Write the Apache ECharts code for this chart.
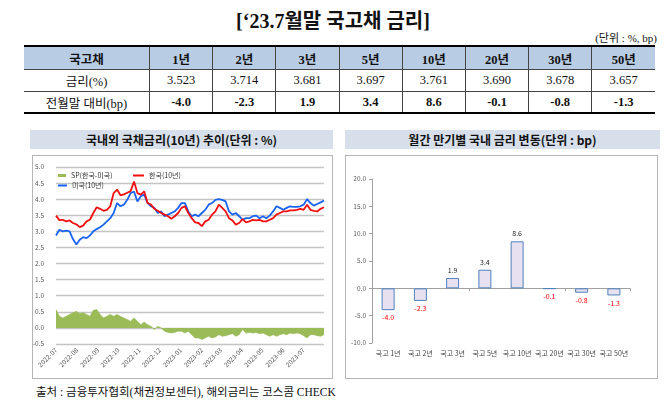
<!DOCTYPE html>
<html><head><meta charset="utf-8">
<script src="https://cdn.jsdelivr.net/npm/echarts@6/dist/echarts.min.js"></script>
<style>
body{margin:0;width:670px;height:405px;background:#fff;position:relative;overflow:hidden;font-family:"Liberation Serif","Noto Sans CJK KR",serif;color:#111;}
.abs{position:absolute;}
#title{left:0;top:5px;width:666px;text-align:center;font-size:20px;font-weight:bold;font-family:"Liberation Serif","Noto Sans CJK KR",serif;}
#unit{right:13px;top:29px;font-size:11px;}
#tbl{left:24px;top:45px;width:631px;border-collapse:collapse;table-layout:fixed;font-size:12.5px;}
#tbl td{text-align:center;padding:0;border-left:1px solid #444;border-right:1px solid #444;}
#tbl tr td:first-child{border-left:none;width:125px;}
#tbl tr td:last-child{border-right:none;}
#tbl tr.h td{background:#b8cce4;height:22px;font-weight:bold;border-top:2px solid #000;border-bottom:1px solid #444;}
#tbl tr.r td{height:21px;border-bottom:1px solid #444;}
#tbl tr.c td{height:20px;border-bottom:2px solid #000;}
#tbl tr.c td.v{font-weight:bold;}
.bar{top:130px;height:19px;background:#d6dfea;font-family:"Noto Sans CJK KR",sans-serif;font-weight:bold;font-size:12px;line-height:19px;text-align:center;color:#111;}
.box{top:155px;height:222px;border:1px solid #b5b5b5;}
#foot{left:36px;top:383px;font-size:11.5px;}
</style></head><body>
<div id="title" class="abs">[‘23.7월말 국고채 금리]</div>
<div id="unit" class="abs">(단위 : %, bp)</div>
<table id="tbl" class="abs"><tbody id="tb"></tbody></table>
<div class="abs bar" style="left:30px;width:303px;">국내외 국채금리(10년) 추이(단위 : %)</div>
<div class="abs bar" style="left:345px;width:315px;">월간 만기별 국내 금리 변동(단위 : bp)</div>
<div class="abs box" style="left:32px;width:299px;"></div>
<div class="abs box" style="left:345px;width:311px;"></div>
<div id="foot" class="abs">출처 : 금융투자협회(채권정보센터), 해외금리는 코스콤 CHECK</div>
<div id="chart" class="abs" style="left:0;top:0;width:670px;height:405px;"></div>
<script>
// ---- table data ----
const tableHead = '국고채';
const tableTenors = ['1년','2년','3년','5년','10년','20년','30년','50년'];
const tableRowRate = '금리(%)';
const tableRates = ['3.523','3.714','3.681','3.697','3.761','3.690','3.678','3.657'];
const tableRowChg = '전월말 대비(bp)';
const tableChanges = ['-4.0','-2.3','1.9','3.4','8.6','-0.1','-0.8','-1.3'];

// ---- left chart data (10Y yields) ----
const dates = ['2022-07-01','2022-07-06','2022-07-11','2022-07-16','2022-07-21','2022-07-26','2022-07-31','2022-08-05','2022-08-10','2022-08-15','2022-08-20','2022-08-25','2022-08-30','2022-09-04','2022-09-09','2022-09-14','2022-09-19','2022-09-24','2022-09-29','2022-10-04','2022-10-09','2022-10-14','2022-10-19','2022-10-24','2022-10-29','2022-11-03','2022-11-08','2022-11-13','2022-11-18','2022-11-23','2022-11-28','2022-12-03','2022-12-08','2022-12-13','2022-12-18','2022-12-23','2022-12-28','2023-01-02','2023-01-07','2023-01-12','2023-01-17','2023-01-22','2023-01-27','2023-02-01','2023-02-06','2023-02-11','2023-02-16','2023-02-21','2023-02-26','2023-03-03','2023-03-08','2023-03-13','2023-03-18','2023-03-23','2023-03-28','2023-04-02','2023-04-07','2023-04-12','2023-04-17','2023-04-22','2023-04-27','2023-05-02','2023-05-07','2023-05-12','2023-05-17','2023-05-22','2023-05-27','2023-06-01','2023-06-06','2023-06-11','2023-06-16','2023-06-21','2023-06-26','2023-07-01','2023-07-06','2023-07-11','2023-07-16','2023-07-21','2023-07-26','2023-07-31'];
const korea10y = [3.49,3.35,3.36,3.31,3.34,3.26,3.22,3.13,3.18,3.31,3.36,3.57,3.75,3.70,3.64,3.67,3.78,4.19,4.30,4.12,4.15,4.20,4.25,4.55,4.19,4.14,4.24,3.88,3.83,3.70,3.64,3.57,3.52,3.47,3.39,3.47,3.57,3.73,3.78,3.57,3.41,3.28,3.26,3.16,3.31,3.36,3.52,3.62,3.83,3.73,3.62,3.41,3.34,3.21,3.26,3.38,3.28,3.31,3.36,3.34,3.36,3.31,3.31,3.36,3.41,3.52,3.57,3.62,3.62,3.65,3.65,3.67,3.70,3.67,3.83,3.67,3.64,3.62,3.70,3.75];
const us10y = [2.87,3.05,3.00,3.02,3.00,2.76,2.59,2.74,2.82,2.79,2.87,3.00,3.07,3.13,3.21,3.31,3.41,3.57,3.88,3.78,3.83,3.98,4.19,4.24,3.93,4.09,4.14,3.88,3.78,3.73,3.57,3.62,3.47,3.52,3.57,3.62,3.73,3.88,3.88,3.62,3.47,3.52,3.47,3.57,3.67,3.83,3.88,3.98,4.00,3.98,3.93,3.62,3.52,3.57,3.47,3.36,3.41,3.41,3.47,3.49,3.41,3.47,3.41,3.49,3.62,3.78,3.73,3.67,3.73,3.78,3.76,3.76,3.78,3.83,4.00,3.88,3.80,3.85,3.90,3.96];
const spread = [0.57,0.36,0.31,0.36,0.42,0.47,0.52,0.45,0.47,0.42,0.36,0.55,0.57,0.42,0.31,0.36,0.42,0.36,0.42,0.36,0.31,0.26,0.21,0.31,0.21,0.10,0.18,0.10,0.05,-0.05,0.05,0.0,-0.10,-0.14,-0.16,-0.14,-0.10,-0.10,-0.16,-0.10,-0.21,-0.31,-0.31,-0.36,-0.31,-0.26,-0.31,-0.28,-0.21,-0.26,-0.24,-0.21,-0.18,-0.26,-0.21,-0.05,-0.16,-0.14,-0.16,-0.14,-0.18,-0.16,-0.21,-0.26,-0.21,-0.26,-0.21,-0.18,-0.21,-0.16,-0.18,-0.16,-0.18,-0.24,-0.31,-0.21,-0.21,-0.24,-0.26,-0.21];
const leftYTicks = [-0.5,0,0.5,1,1.5,2,2.5,3,3.5,4,4.5,5];

// ---- right chart data (monthly change, bp) ----
const tenorCats = ['국고 1년','국고 2년','국고 3년','국고 5년','국고 10년','국고 20년','국고 30년','국고 50년'];
const monthlyChange = [-4.0,-2.3,1.9,3.4,8.6,-0.1,-0.8,-1.3];
const rightYTicks = [-10,-5,0,5,10,15,20];

// build table
(function(){
  const tb = document.getElementById('tb');
  const mk = (cls, first, arr, vcls) => {
    const tr = document.createElement('tr'); tr.className = cls;
    const td0 = document.createElement('td'); td0.textContent = first; tr.appendChild(td0);
    arr.forEach(v => { const td = document.createElement('td'); td.textContent = v; if (vcls) td.className = vcls; tr.appendChild(td); });
    tb.appendChild(tr);
  };
  mk('h', tableHead, tableTenors);
  mk('r', tableRowRate, tableRates);
  mk('c', tableRowChg, tableChanges, 'v');
})();

const chart = echarts.init(document.getElementById('chart'), null, {renderer:'canvas'});
const smallFont = {fontFamily:'"Noto Sans CJK KR", sans-serif', fontSize:6.5, color:'#595959'};
const pair = arr => dates.map((d,i)=>[d, arr[i]]);
const fmtMonth = v => { const d = new Date(v); return d.getFullYear() + '-' + String(d.getMonth()+1).padStart(2,'0'); };

chart.setOption({
  animation:false,
  grid:[
    {left:56, top:167, width:268, height:177},
    {left:372, top:179, width:258, height:164}
  ],
  legend:[
    {data:['SP(한국-미국)'], left:58, top:172, icon:'rect', itemWidth:8, itemHeight:3, itemGap:4,
     textStyle:{fontFamily:'"Noto Sans CJK KR", sans-serif', fontSize:7, color:'#333'}, selectedMode:false, padding:0},
    {data:['한국(10년)'], left:133, top:172, icon:'rect', itemWidth:11, itemHeight:2,
     textStyle:{fontFamily:'"Noto Sans CJK KR", sans-serif', fontSize:7, color:'#333'}, selectedMode:false, padding:0},
    {data:['미국(10년)'], left:58, top:182, icon:'rect', itemWidth:9, itemHeight:2,
     textStyle:{fontFamily:'"Noto Sans CJK KR", sans-serif', fontSize:7, color:'#333'}, selectedMode:false, padding:0}
  ],
  xAxis:[
    {type:'time', gridIndex:0, min:'2022-07-01', max:'2023-07-31',
     minInterval:28*864e5, maxInterval:31*864e5,
     axisLine:{show:false}, axisTick:{show:false}, splitLine:{show:false},
     axisLabel:Object.assign({rotate:45, margin:5, formatter:fmtMonth, showMaxLabel:false, hideOverlap:false}, smallFont)},
    {type:'category', gridIndex:1, data:tenorCats,
     axisLine:{onZero:true, lineStyle:{color:'#a0a0a0'}}, axisTick:{show:true, length:3, lineStyle:{color:'#a0a0a0'}},
     axisLabel:{show:false}},
    {type:'category', gridIndex:1, data:tenorCats, position:'bottom',
     axisLine:{show:false, onZero:false}, axisTick:{show:false},
     axisLabel:{fontFamily:'"Noto Sans CJK KR", sans-serif', fontSize:7, color:'#444', margin:7, interval:0}}
  ],
  yAxis:[
    {type:'value', gridIndex:0, min:leftYTicks[0], max:leftYTicks[leftYTicks.length-1], interval:0.5,
     axisLine:{show:false}, axisTick:{show:false},
     splitLine:{lineStyle:{color:'#c4c4c4', width:1.3}},
     axisLabel:Object.assign({formatter:v=>v.toFixed(1), margin:12}, smallFont)},
    {type:'value', gridIndex:1, min:rightYTicks[0], max:rightYTicks[rightYTicks.length-1], interval:5,
     axisLine:{show:true, lineStyle:{color:'#a0a0a0'}}, axisTick:{show:true, length:3, lineStyle:{color:'#a0a0a0'}},
     splitLine:{show:false},
     axisLabel:Object.assign({formatter:v=>v.toFixed(1), margin:6}, smallFont)}
  ],
  series:[
    {name:'SP(한국-미국)', type:'line', xAxisIndex:0, yAxisIndex:0, data:pair(spread), symbol:'none',
     itemStyle:{color:'#9bbb59'}, lineStyle:{width:0.6, color:'#9bbb59'}, areaStyle:{color:'#9bbb59', opacity:1}},
    {name:'미국(10년)', type:'line', xAxisIndex:0, yAxisIndex:0, data:pair(us10y), symbol:'none',
     itemStyle:{color:'#1a63f0'}, lineStyle:{width:1.8, color:'#1a63f0'}},
    {name:'한국(10년)', type:'line', xAxisIndex:0, yAxisIndex:0, data:pair(korea10y), symbol:'none',
     itemStyle:{color:'#f01010'}, lineStyle:{width:1.8, color:'#f01010'}},
    {name:'변동', type:'bar', xAxisIndex:1, yAxisIndex:1, barWidth:13,
     data:monthlyChange.map(v=>({value:v, label:{position: v>=0?'top':'bottom', color: v>=0?'#222':'#ff0000'}})),
     itemStyle:{color:'#e6e0f0', borderColor:'#4f81bd', borderWidth:1},
     label:{show:true, fontFamily:'"Noto Sans CJK KR", sans-serif', fontSize:7, distance:4, formatter:p=>p.value.toFixed(1)}}
  ]
});
</script>
</body></html>
